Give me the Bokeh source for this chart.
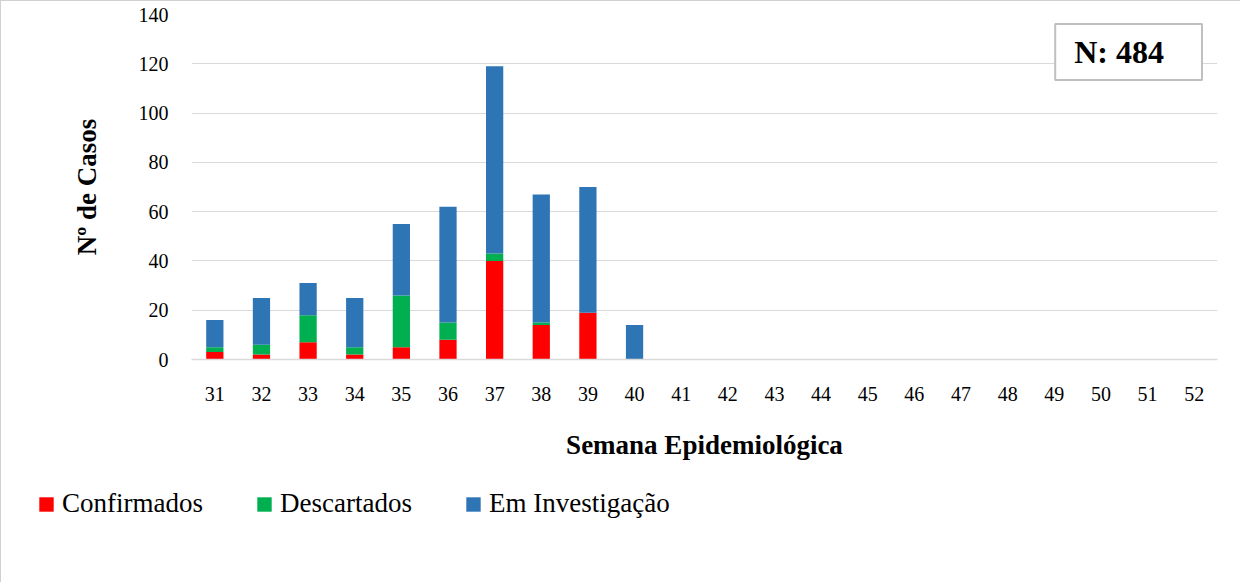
from bokeh.plotting import figure
from bokeh.models import Label, FactorRange, Range1d, FixedTicker
from bokeh.embed import file_html
from bokeh.resources import INLINE

weeks = [str(w) for w in range(31, 53)]
confirmados = [3, 2, 7, 2, 5, 8, 40, 14, 19, 0] + [0] * 12
descartados = [2, 4, 11, 3, 21, 7, 3, 1, 0, 0] + [0] * 12
investigacao = [11, 19, 13, 20, 29, 47, 76, 52, 51, 14] + [0] * 12
series = ["Confirmados", "Descartados", "Em Investigação"]
colors = ["#FF0000", "#00B050", "#2E75B6"]
y_ticks = [0, 20, 40, 60, 80, 100, 120, 140]
total_label = "N: 484"

FONT = "Liberation Serif"

data = {"weeks": weeks, "Confirmados": confirmados,
        "Descartados": descartados, "Em Investigação": investigacao}

p = figure(x_range=FactorRange(*weeks, range_padding=0), y_range=Range1d(0, 140),
           width=1240, height=480, output_backend="svg", toolbar_location=None,
           min_border_left=190, min_border_right=24, min_border_top=13,
           min_border_bottom=122)
p.styles = {"border-left": "1px solid #d0d0d0", "border-top": "1px solid #d0d0d0"}

renderers = p.vbar_stack(series, x="weeks", width=0.37, color=colors,
                         line_color=None, source=data)

p.outline_line_color = None
p.xgrid.grid_line_color = None
p.ygrid.grid_line_color = "#d9d9d9"
p.ygrid.grid_line_width = 1

p.yaxis.ticker = FixedTicker(ticks=y_ticks)
p.yaxis.axis_line_color = None
p.yaxis.major_tick_line_color = None
p.yaxis.minor_tick_line_color = None
p.yaxis.major_label_standoff = 17
p.yaxis.major_label_text_font = FONT
p.yaxis.major_label_text_font_size = "20px"
p.yaxis.major_label_text_color = "#000000"
p.yaxis.axis_label = "Nº de Casos"
p.yaxis.axis_label_text_font = FONT
p.yaxis.axis_label_text_font_style = "bold"
p.yaxis.axis_label_text_font_size = "27px"
p.yaxis.axis_label_text_color = "#000000"
p.yaxis.axis_label_standoff = 34

p.xaxis.axis_line_color = "#d9d9d9"
p.xaxis.axis_line_width = 1.5
p.xaxis.major_tick_line_color = None
p.xaxis.minor_tick_line_color = None
p.xaxis.major_label_standoff = 21
p.xaxis.major_label_text_font = FONT
p.xaxis.major_label_text_font_size = "20px"
p.xaxis.major_label_text_color = "#000000"
p.xaxis.axis_label = "Semana Epidemiológica"
p.xaxis.axis_label_text_font = FONT
p.xaxis.axis_label_text_font_style = "bold"
p.xaxis.axis_label_text_font_size = "27px"
p.xaxis.axis_label_text_color = "#000000"
p.xaxis.axis_label_standoff = 26

box = Label(x=18.52, y=124.8, text=total_label, text_font=FONT,
            text_font_size="32px", text_font_style="bold",
            text_color="#000000", text_align="left", text_baseline="middle",
            border_line_color="#bfbfbf", border_line_width=2,
            background_fill_color="white", padding=(19, 38, 10, 10))
p.add_layout(box)

# legend strip below the chart (its bars lie outside its visible y range)
p2 = figure(width=1240, height=102, output_backend="svg", toolbar_location=None,
            x_range=FactorRange(*weeks, range_padding=0), y_range=Range1d(500, 501),
            x_axis_type=None, y_axis_type=None,
            min_border_left=0, min_border_right=0, min_border_top=0,
            min_border_bottom=0)
p2.styles = {"border-left": "1px solid #d0d0d0"}
p2.outline_line_color = None
p2.vbar_stack(series, x="weeks", width=0.37, color=colors, line_color=None,
              source=data, legend_label=series)

lg = p2.legend[0]
lg.orientation = "horizontal"
lg.location = (36, 63)
lg.padding = 0
lg.margin = 0
lg.spacing = 52
lg.label_standoff = 7
lg.glyph_width = 18
lg.glyph_height = 18
lg.border_line_color = None
lg.background_fill_alpha = 0
lg.label_text_font = FONT
lg.label_text_font_size = "27px"
lg.label_text_color = "#000000"

open("out.html", "w").write(file_html([p, p2], INLINE))
